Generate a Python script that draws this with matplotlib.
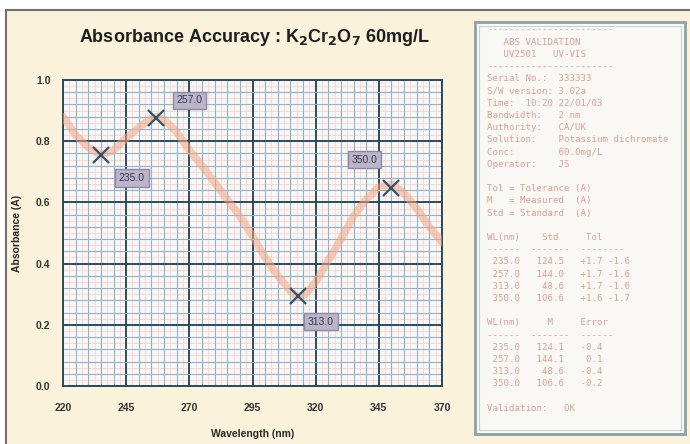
import numpy as np
import matplotlib
matplotlib.use("Agg")
import matplotlib.pyplot as plt
from matplotlib.patches import Rectangle
from matplotlib.ticker import MultipleLocator

# absorbance scan of K2Cr2O7 60 mg/L
wavelength = [220, 225, 230, 235, 240, 245, 250, 255, 257, 260, 265, 270, 275,
              280, 285, 290, 295, 300, 305, 310, 313, 316, 320, 325, 330, 335,
              340, 345, 350, 355, 360, 365, 370]
absorbance = [0.88, 0.82, 0.78, 0.755, 0.77, 0.81, 0.845, 0.875, 0.88, 0.87,
              0.83, 0.77, 0.72, 0.665, 0.61, 0.555, 0.49, 0.42, 0.36, 0.31,
              0.29, 0.30, 0.34, 0.41, 0.48, 0.555, 0.61, 0.65, 0.66, 0.63,
              0.58, 0.52, 0.47]

peak_wl = [235, 257, 313, 350]
peak_abs = [0.755, 0.875, 0.295, 0.648]
peak_labels = ["235.0", "257.0", "313.0", "350.0"]
label_offsets = [(31, -23), (33, 18), (23, -26), (-27, 28)]

x_ticks = [220, 245, 270, 295, 320, 345, 370]
y_ticks = [0.0, 0.2, 0.4, 0.6, 0.8, 1.0]

report_lines = [
    "-----------------------",
    "   ABS VALIDATION",
    "   UV2501   UV-VIS",
    "-----------------------",
    "Serial No.:  333333",
    "S/W version: 3.02a",
    "Time:  10:20 22/01/03",
    "Bandwidth:   2 nm",
    "Authority:   CA/UK",
    "Solution:    Potassium dichromate",
    "Conc:        60.0mg/L",
    "Operator:    JS",
    "",
    "Tol = Tolerance (A)",
    "M   = Measured  (A)",
    "Std = Standard  (A)",
    "",
    "WL(nm)    Std     Tol",
    "------  -------  --------",
    " 235.0   124.5   +1.7 -1.6",
    " 257.0   144.0   +1.7 -1.6",
    " 313.0    48.6   +1.7 -1.6",
    " 350.0   106.6   +1.6 -1.7",
    "",
    "WL(nm)     M     Error",
    "------  -------  ------",
    " 235.0   124.1   -0.4",
    " 257.0   144.1    0.1",
    " 313.0    48.6   -0.4",
    " 350.0   106.6   -0.2",
    "",
    "Validation:   OK",
]

W, H = 690, 444
fig = plt.figure(figsize=(W / 100, H / 100), dpi=100)
fig.patch.set_facecolor("white")

# cream page with grey frame
bg = fig.add_axes([0, 0, 1, 1])
bg.set_xlim(0, W)
bg.set_ylim(H, 0)
bg.axis("off")
bg.add_patch(Rectangle((6, 10), W, H, facecolor="#fbf2dc", edgecolor="#707070", lw=1.5))

# report panel
bg.add_patch(Rectangle((475, 22), 210, 412, facecolor="#faf8f4", edgecolor="#8aa2a8", lw=2))
bg.add_patch(Rectangle((479, 26), 202, 404, facecolor="none", edgecolor="#c8d2d4", lw=0.8))
for i, line in enumerate(report_lines):
    bg.text(487, 30 + 12.2 * i, line, family="DejaVu Sans Mono", fontsize=6.6,
            color="#cf9286", va="center", ha="left", alpha=0.85)

fig.text(254 / W, 1 - 37 / H,
         r"Absorbance Accuracy : K$_\mathbf{2}$Cr$_\mathbf{2}$O$_\mathbf{7}$ 60mg/L",
         ha="center", va="center", fontsize=13, fontweight="bold",
         family="Liberation Sans", color="#1e1e1e")

ax = fig.add_axes([63 / W, 1 - 386 / H, 379 / W, 306 / H])
ax.set_facecolor("#f7f5f6")
ax.set_xlim(220, 370)
ax.set_ylim(0, 1.0)
ax.set_xticks(x_ticks)
ax.set_yticks(y_ticks)
ax.set_xticklabels([str(t) for t in x_ticks])
ax.set_yticklabels(["%.1f" % t for t in y_ticks])

# graph-paper grid: orange fine, blue minor, dark major
for v in np.arange(220, 370.01, 2.5):
    ax.axvline(v, color="#f5d2c0", lw=0.5, zorder=0)
for v in np.arange(0, 1.0001, 0.02):
    ax.axhline(v, color="#f5d2c0", lw=0.5, zorder=0)
ax.xaxis.set_minor_locator(MultipleLocator(5))
ax.yaxis.set_minor_locator(MultipleLocator(0.04))
ax.grid(which="minor", color="#93b3c6", lw=0.8, zorder=1)
ax.grid(which="major", color="#2c4c5c", lw=1.4, zorder=1)
ax.set_axisbelow(True)
for s in ax.spines.values():
    s.set_color("#2c4c5c")
    s.set_linewidth(1.4)
ax.tick_params(which="both", length=0)
ax.tick_params(axis="x", pad=12)
ax.tick_params(axis="y", pad=9)
ax.tick_params(labelsize=7.5, colors="#333333")
for lab in ax.get_xticklabels() + ax.get_yticklabels():
    lab.set_family("Liberation Sans")
    lab.set_fontweight("bold")

ax.plot(wavelength, absorbance, color="#f4a583", lw=5.5, alpha=0.55,
        solid_capstyle="round", zorder=3)
ax.plot(peak_wl, peak_abs, ls="none", marker="x", ms=11, mew=1.6,
        color="#34526e", zorder=4)
for wl, a, lab, off in zip(peak_wl, peak_abs, peak_labels, label_offsets):
    ax.annotate(lab, (wl, a), xytext=off, textcoords="offset pixels",
                ha="center", va="center", fontsize=7.5, color="#3a3a4a",
                family="Liberation Sans", zorder=5,
                bbox=dict(boxstyle="square,pad=0.35", fc="#bab5cb", ec="#8e89a3", lw=1))

ax.set_xlabel("Wavelength (nm)", fontsize=7.5, fontweight="bold",
              family="Liberation Sans", color="#262626", labelpad=12)
ax.set_ylabel("Absorbance (A)", fontsize=7.5, fontweight="bold",
              family="Liberation Sans", color="#262626", labelpad=10)

fig.savefig("out.png", dpi=100, facecolor=fig.get_facecolor())
